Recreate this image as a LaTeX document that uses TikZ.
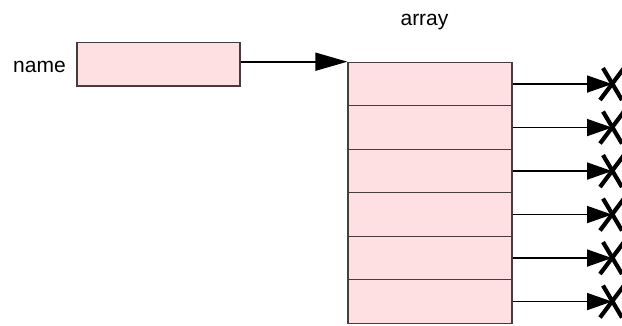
\documentclass[tikz,border=0pt]{standalone}
\usepackage{fontspec}
\setmainfont{Liberation Sans}
\usetikzlibrary{arrows.meta}
\definecolor{cellpink}{RGB}{255,224,226}
\definecolor{cellborder}{RGB}{70,60,60}
\begin{document}
\begin{tikzpicture}[x=1pt,y=-1pt,
  cellbox/.style={draw=cellborder,fill=cellpink,line width=1.2pt,rectangle,inner sep=0pt,
    minimum width=164pt,minimum height=43.5pt},
  lbl/.style={font=\fontsize{21}{25}\selectfont,inner sep=0pt,anchor=base},
  ptr/.style={line width=1.7pt,-{Triangle[length=25pt,width=17pt]}},
  bigptr/.style={line width=1.7pt,-{Triangle[length=32pt,width=18pt]}},
  nullx/.style={line width=4.2pt}]
\useasboundingbox (0,0) rectangle (622,325);
\node[lbl] (namelbl) at (39.5,72.3) {name};
\node[cellbox,minimum width=163pt,minimum height=43.7pt] (namebox) at (158.5,64.2) {};
\node[lbl] (arraylbl) at (424.5,25) {array};
\foreach \i in {1,...,6}{
  \node[cellbox] (c\i) at (430,{62.3+43.5*(\i-0.5)}) {};
}
\coordinate (ptrend) at (c1.north west);
\draw[bigptr] (namebox.east |- ptrend) -- (ptrend);
\foreach \i in {1,...,6}{
  \coordinate (x\i) at (612,{62.3+43.5*(\i-0.5)});
  \draw[ptr] (c\i.east) -- (x\i);
  \draw[nullx] ([shift={(-9,-16)}]x\i) -- ([shift={(10,16)}]x\i);
  \draw[nullx] ([shift={(12,-16)}]x\i) -- ([shift={(-12,16)}]x\i);
}
\end{tikzpicture}
\end{document}
